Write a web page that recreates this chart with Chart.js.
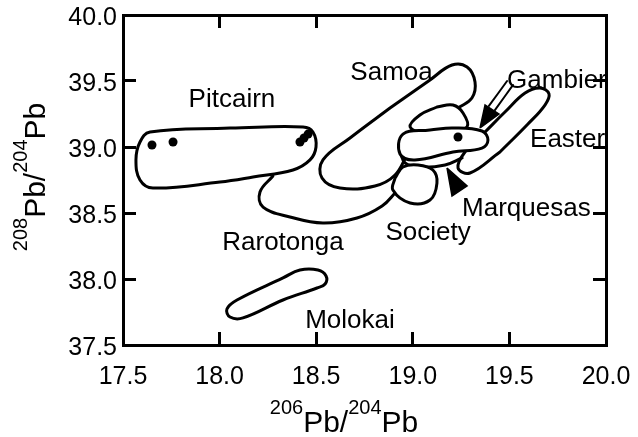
<!DOCTYPE html>
<html><head><meta charset="utf-8">
<script src="https://cdn.jsdelivr.net/npm/chart.js@4.4.1/dist/chart.umd.min.js"></script>
<style>html,body{margin:0;padding:0;background:#fff;}canvas{display:block;}</style>
</head><body>
<canvas id="c" width="638" height="437"></canvas>
<script>
// ---- tick values ----
const xTicks = [17.5, 18.0, 18.5, 19.0, 19.5, 20.0];
const yTicks = [37.5, 38.0, 38.5, 39.0, 39.5, 40.0];

// ---- field outlines: [206Pb/204Pb, 208Pb/204Pb] ----
const pitcairn = [[18.054,39.144],[18.432,39.152],[18.483,39.114],[18.499,39.000],[18.468,38.902],[18.380,38.826],[18.173,38.773],[18.002,38.735],[17.655,38.689],[17.588,38.750],[17.567,38.902],[17.588,39.038],[17.640,39.114]];
const samoa = [[18.882,39.295],[19.089,39.508],[19.203,39.621],[19.281,39.606],[19.322,39.492],[19.306,39.371],[19.234,39.295],[19.089,39.144],[18.986,38.977],[18.908,38.788],[18.804,38.705],[18.623,38.689],[18.530,38.765],[18.535,38.902],[18.675,39.068]];
const rarotonga = [[18.276,38.780],[18.209,38.659],[18.225,38.545],[18.364,38.470],[18.535,38.424],[18.711,38.462],[18.841,38.553],[18.913,38.659]];
const molokai = [[18.328,38.008],[18.416,38.068],[18.509,38.068],[18.551,38.023],[18.546,37.962],[18.504,37.932],[18.328,37.841],[18.121,37.705],[18.054,37.712],[18.038,37.773],[18.090,37.841]];
const easter = [[19.451,38.962],[19.596,39.174],[19.684,39.318],[19.705,39.402],[19.658,39.447],[19.581,39.409],[19.477,39.265],[19.374,39.114],[19.270,38.962],[19.234,38.841],[19.296,38.803]];
const societyUpper = [[19.125,39.303],[19.208,39.318],[19.260,39.258],[19.281,39.152],[19.193,39.114],[19.063,39.106],[18.986,39.152],[19.037,39.242]];
const gambierField = [[19.089,39.129],[19.208,39.144],[19.358,39.121],[19.389,39.053],[19.358,38.992],[19.208,38.962],[19.011,38.902],[18.934,38.947],[18.949,39.098]];
const marquesasEdge = [[18.934,38.977],[18.960,38.879],[19.037,38.848],[19.167,38.864],[19.255,38.917]];
const societyLower = [[18.908,38.765],[18.897,38.674],[18.986,38.576],[19.089,38.598],[19.125,38.727],[19.104,38.826],[19.027,38.864],[18.949,38.848]];

// ---- sample points ----
const samplePoints = [[17.650,39.015],[17.759,39.038],[18.416,39.038],[18.437,39.068],[18.458,39.098],[19.234,39.076]];

// ---- arrows (Gambier, Marquesas) ----
const gambierHead = [[19.348,39.144],[19.446,39.250],[19.374,39.318]];
const gambierShaftA = [[19.425,39.280],[19.519,39.470]];
const gambierShaftB = [[19.394,39.311],[19.488,39.500]];
const marquesasHead = [[19.177,38.841],[19.281,38.705],[19.203,38.629]];

// ---- region labels ----
const labelNames = ['Pitcairn','Samoa','Gambier','Easter','Marquesas','Society','Rarotonga','Molokai'];
const labelX = [18.064, 18.890, 19.488, 19.607, 19.255, 19.079, 18.328, 18.675];
const labelY = [39.303, 39.508, 39.447, 39.000, 38.477, 38.295, 38.220, 37.629];
const labelAnchor = ['center','center','left','left','left','center','center','center'];

const xTitleParts = [['206',true],['Pb/',false],['204',true],['Pb',false]];
const yTitleParts = [['208',true],['Pb/',false],['204',true],['Pb',false]];

const FONT = '"Liberation Sans", Arial, Helvetica, sans-serif';
const pts = a => a.map(p => ({x: p[0], y: p[1]}));
const loop = a => pts(a.concat([a[0]]));

function outline(label, arr, order, closed, fillWhite, width) {
  return {
    label, data: closed ? loop(arr) : pts(arr), showLine: true,
    borderColor: '#000', borderWidth: width || 3, pointRadius: 0, pointHoverRadius: 0,
    tension: 0.4, fill: fillWhite ? 'shape' : false, backgroundColor: '#fff',
    borderCapStyle: 'round', borderJoinStyle: 'round', order
  };
}
function head(label, arr) {
  return { label, data: loop(arr), showLine: true, borderColor: '#000', borderWidth: 1.5,
    backgroundColor: '#000', fill: 'shape', pointRadius: 0, tension: 0, order: 2 };
}

const labelPlugin = {
  id: 'regionLabels',
  afterDatasetsDraw(chart) {
    const ctx = chart.ctx, xs = chart.scales.x, ys = chart.scales.y;
    ctx.save();
    ctx.fillStyle = '#000';
    ctx.font = '26px ' + FONT;
    ctx.textBaseline = 'alphabetic';
    labelNames.forEach((n, i) => {
      ctx.textAlign = labelAnchor[i];
      ctx.fillText(n, xs.getPixelForValue(labelX[i]), ys.getPixelForValue(labelY[i]));
    });
    ctx.restore();
  }
};

const titlePlugin = {
  id: 'axisTitles',
  afterDraw(chart) {
    const ctx = chart.ctx;
    const big = '30px ' + FONT, small = '20px ' + FONT;
    function draw(parts, cx, baseY) {
      let total = 0;
      parts.forEach(([t, sup]) => { ctx.font = sup ? small : big; total += ctx.measureText(t).width; });
      let x = cx - total / 2;
      parts.forEach(([t, sup]) => {
        ctx.font = sup ? small : big;
        ctx.fillText(t, x, sup ? baseY - 18 : baseY);
        x += ctx.measureText(t).width;
      });
    }
    ctx.save();
    ctx.fillStyle = '#000';
    ctx.textAlign = 'left';
    ctx.textBaseline = 'alphabetic';
    draw(xTitleParts, 344, 432);
    ctx.translate(45, 177);
    ctx.rotate(-Math.PI / 2);
    draw(yTitleParts, 0, 0);
    ctx.restore();
  }
};

const gridOpts = { display: true, drawOnChartArea: false, drawTicks: true, tickLength: -13, color: '#000', lineWidth: 3 };
const borderOpts = { display: true, width: 3, color: '#000' };
const fmt = v => Number(v).toFixed(1);
const noPad = s => { s.paddingLeft = 0; s.paddingRight = 0; s.paddingTop = 0; s.paddingBottom = 0; };

new Chart(document.getElementById('c'), {
  type: 'scatter',
  data: {
    datasets: [
      outline('Pitcairn', pitcairn, 10, true, false),
      outline('Rarotonga', rarotonga, 10, false, false),
      outline('Samoa', samoa, 10, true, false),
      outline('Easter', easter, 10, true, false),
      outline('Molokai', molokai, 10, true, false),
      outline('Society (upper)', societyUpper, 8, true, true),
      outline('Society', societyLower, 7, true, true),
      outline('Marquesas', marquesasEdge, 7, false, false),
      outline('Gambier', gambierField, 6, true, true),
      outline('Gambier arrow a', gambierShaftA, 3, false, false, 2),
      outline('Gambier arrow b', gambierShaftB, 3, false, false, 2),
      head('Gambier arrowhead', gambierHead),
      head('Marquesas arrowhead', marquesasHead),
      { label: 'Samples', data: pts(samplePoints), showLine: false, pointRadius: 4.5,
        pointBackgroundColor: '#000', pointBorderColor: '#000', pointBorderWidth: 0, order: 1 }
    ]
  },
  options: {
    responsive: false,
    animation: false,
    events: [],
    layout: { padding: { top: 15, right: 32, left: 0, bottom: 0 } },
    plugins: { legend: { display: false }, tooltip: { enabled: false } },
    scales: {
      x: {
        type: 'linear', position: 'bottom', min: 17.5, max: 20,
        afterBuildTicks: s => { s.ticks = xTicks.map(v => ({ value: v })); },
        afterFit: s => { s.height = 92; noPad(s); },
        ticks: { color: '#000', font: { family: FONT, size: 25 }, padding: 30, callback: fmt, maxRotation: 0, autoSkip: false },
        grid: gridOpts, border: borderOpts
      },
      y: {
        type: 'linear', position: 'left', min: 37.5, max: 40,
        afterBuildTicks: s => { s.ticks = yTicks.map(v => ({ value: v })); },
        afterFit: s => { s.width = 123; noPad(s); },
        ticks: { color: '#000', font: { family: FONT, size: 25 }, padding: 19, labelOffset: 3, callback: fmt, autoSkip: false },
        grid: gridOpts, border: borderOpts
      },
      x2: {
        axis: 'x', type: 'linear', position: 'top', min: 17.5, max: 20,
        afterBuildTicks: s => { s.ticks = xTicks.map(v => ({ value: v })); },
        afterFit: s => { s.height = 0; noPad(s); },
        ticks: { display: false },
        grid: gridOpts, border: borderOpts
      },
      y2: {
        axis: 'y', type: 'linear', position: 'right', min: 37.5, max: 40,
        afterBuildTicks: s => { s.ticks = yTicks.map(v => ({ value: v })); },
        afterFit: s => { s.width = 0; noPad(s); },
        ticks: { display: false },
        grid: gridOpts, border: borderOpts
      }
    }
  },
  plugins: [labelPlugin, titlePlugin]
});
</script>
</body></html>
